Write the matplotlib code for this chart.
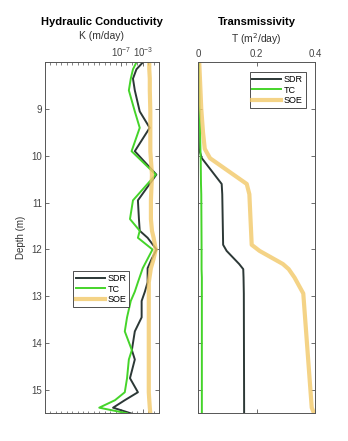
import matplotlib
matplotlib.use('Agg')
import matplotlib.pyplot as plt
from matplotlib.ticker import LogLocator, NullFormatter, FixedLocator

plt.rcParams['font.family'] = ['Liberation Sans', 'DejaVu Sans']

# depth samples (m) shared by the conductivity logs
depth = [8.0, 8.15, 8.35, 8.6, 9.05, 9.4, 9.9, 10.4, 10.95, 11.35, 11.6, 11.75,
         12.0, 12.2, 12.4, 12.7, 12.9, 13.1, 13.45, 13.75, 14.15, 14.35, 14.75,
         15.05, 15.22, 15.38, 15.5]

# hydraulic conductivity K (m/day)
k_sdr = [1.1e-3, 7e-5, 1.6e-5, 3.5e-5, 2.8e-4, 1.9e-2, 3.5e-5, 3.2e-1, 1.3e-4,
         2e-4, 2.8e-4, 7.9e-3, 3.5e-1, 4.5e-2, 7.9e-3, 7.9e-3, 2.5e-3, 6.3e-4,
         6.3e-4, 3.5e-5, 1e-5, 3.5e-5, 4.5e-6, 1.3e-4, 5e-7, 3.5e-9, 6.3e-6]
k_tc = [7e-5, 1.6e-5, 6.3e-6, 2.8e-6, 3.5e-5, 2.8e-4, 8.9e-6, 2.5e-1, 1.6e-5,
        4.5e-6, 2.8e-4, 1.3e-4, 6.3e-2, 7.9e-3, 1e-3, 1.3e-4, 3.5e-5, 6.3e-6,
        1.3e-6, 5e-7, 1e-5, 2.8e-6, 1.3e-6, 5e-7, 7.9e-9, 1e-11, 1.3e-6]
k_soe = [1.6e-2, 1.6e-2, 2e-2, 2e-2, 2.5e-2, 2.5e-2, 2.5e-2, 5e-2, 3.2e-2,
         3.2e-2, 5e-2, 0.1, 0.25, 0.1, 3.2e-2, 1.3e-2, 1.3e-2, 1.3e-2, 1.3e-2,
         1.3e-2, 1.3e-2, 1.3e-2, 1.3e-2, 1.3e-2, 1.6e-2, 2e-2, 2.5e-2]

# cumulative transmissivity T (m^2/day)
t_depth = [8.0, 9.0, 9.5, 9.85, 10.05, 10.6, 10.82, 11.9, 12.03, 12.31, 12.42,
           12.6, 12.94, 15.38, 15.5]
t_sdr = [0.0, 0.0, 0.001, 0.002, 0.012, 0.08, 0.082, 0.085, 0.097, 0.14, 0.154,
         0.155, 0.156, 0.157, 0.157]
t_tc = [0.002, 0.004, 0.006, 0.007, 0.008, 0.009, 0.01, 0.011, 0.011, 0.011,
        0.011, 0.012, 0.012, 0.012, 0.012]
t_soe = [0.003, 0.01, 0.016, 0.022, 0.04, 0.166, 0.175, 0.183, 0.21, 0.29, 0.31,
         0.33, 0.36, 0.389, 0.397]

c_sdr = '#2c3836'
c_tc = '#45d42a'
c_soe = '#f2c868'

fig = plt.figure(figsize=(3.48, 4.41), dpi=100)
ax1 = fig.add_axes([0.129, 0.0628, 0.328, 0.796])
ax2 = fig.add_axes([0.570, 0.0628, 0.335, 0.796])

ax1.plot(k_sdr, depth, color=c_sdr, lw=1.4, label='SDR')
ax1.plot(k_tc, depth, color=c_tc, lw=1.4, label='TC')
ax1.plot(k_soe, depth, color=c_soe, lw=3, alpha=0.8, label='SOE')
ax1.set_xscale('log')
ax1.set_xlim(1e-21, 1)
ax1.xaxis.set_major_locator(FixedLocator([1e-7, 1e-3]))
ax1.xaxis.set_minor_locator(LogLocator(base=10, numticks=40, subs=[1.0]))
ax1.xaxis.set_minor_formatter(NullFormatter())

ax2.plot(t_sdr, t_depth, color=c_sdr, lw=1.4, label='SDR')
ax2.plot(t_tc, t_depth, color=c_tc, lw=1.4, label='TC')
ax2.plot(t_soe, t_depth, color=c_soe, lw=3, alpha=0.8, label='SOE')
ax2.set_xlim(0, 0.4)
ax2.set_xticks([0, 0.2, 0.4])
ax2.set_xticklabels(['0', '0.2', '0.4'])
ax2.set_yticklabels([])

for ax in (ax1, ax2):
    ax.set_ylim(15.5, 8.0)
    ax.set_yticks(range(9, 16))
    ax.xaxis.tick_top()
    ax.xaxis.set_label_position('top')
    ax.tick_params(which='both', direction='in', top=True, bottom=True,
                   left=True, right=True, labelsize=7, colors='#555555',
                   labelcolor='#444444')
    ax.tick_params(which='major', length=3, width=0.6, pad=2)
    ax.tick_params(which='minor', length=1.8, width=0.5)
    for s in ax.spines.values():
        s.set_color('#555555')
        s.set_linewidth(0.7)

ax1.set_ylabel('Depth (m)', fontsize=7, color='#333333', labelpad=4)
ax1.set_xlabel('K (m/day)', fontsize=7.5, color='#333333', labelpad=5)
ax1.set_title('Hydraulic Conductivity', fontsize=8, fontweight='bold', pad=4)
ax2.set_xlabel('T (m$^2$/day)', fontsize=7.5, color='#333333', labelpad=5)
ax2.set_title('Transmissivity', fontsize=8, fontweight='bold', pad=4)

leg_kw = dict(fontsize=6.5, handlelength=3.2, handletextpad=0.3, fancybox=False,
              edgecolor='#333333', framealpha=1, borderpad=0.3, labelspacing=0.2,
              loc='center')
l1 = ax1.legend(bbox_to_anchor=(0.494, 0.354), **leg_kw)
l2 = ax2.legend(bbox_to_anchor=(0.679, 0.921), **leg_kw)
for l in (l1, l2):
    l.get_frame().set_linewidth(0.6)

fig.savefig('out.png', dpi=100)
